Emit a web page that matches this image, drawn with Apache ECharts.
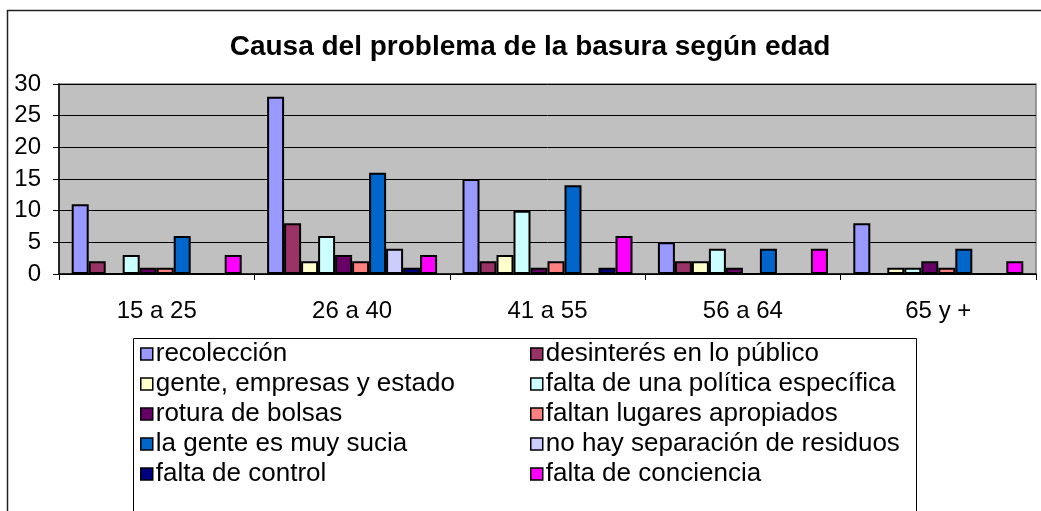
<!DOCTYPE html>
<html>
<head>
<meta charset="utf-8">
<script src="https://cdn.jsdelivr.net/npm/echarts@6/dist/echarts.min.js"></script>
<style>
  html, body { margin: 0; padding: 0; background: #fff; }
  #main { width: 1041px; height: 511px; }
</style>
</head>
<body>
<div id="main"></div>
<script>
// age groups
const categories = ['15 a 25', '26 a 40', '41 a 55', '56 a 64', '65 y +'];

// one array per cause (values per age group)
const recoleccion = [11, 28, 15, 5, 8];
const desinteres = [2, 8, 2, 2, 0];
const genteEmpresas = [0, 2, 3, 2, 1];
const faltaPolitica = [3, 6, 10, 4, 1];
const roturaBolsas = [1, 3, 1, 1, 2];
const faltanLugares = [1, 2, 2, 0, 1];
const genteSucia = [6, 16, 14, 4, 4];
const noSeparacion = [0, 4, 0, 0, 0];
const faltaControl = [0, 1, 1, 0, 0];
const faltaConciencia = [3, 3, 6, 4, 2];

const yTicks = [0, 5, 10, 15, 20, 25, 30];

const seriesDefs = [
  ['recolección', recoleccion, '#9999FF'],
  ['desinterés en lo público', desinteres, '#993366'],
  ['gente, empresas y estado', genteEmpresas, '#FFFFCC'],
  ['falta de una política específica', faltaPolitica, '#CCFFFF'],
  ['rotura de bolsas', roturaBolsas, '#660066'],
  ['faltan lugares apropiados', faltanLugares, '#FF8080'],
  ['la gente es muy sucia', genteSucia, '#0066CC'],
  ['no hay separación de residuos', noSeparacion, '#CCCCFF'],
  ['falta de control', faltaControl, '#000080'],
  ['falta de conciencia', faltaConciencia, '#FF00FF']
];

const font = 'Liberation Sans, Arial, sans-serif';
const chart = echarts.init(document.getElementById('main'));

const legendBase = {
  orient: 'vertical',
  top: 341,
  padding: 0,
  icon: 'rect',
  itemWidth: 12,
  itemHeight: 12,
  itemGap: 4,
  selectedMode: false,
  textStyle: { fontFamily: font, fontSize: 26, color: '#000', padding: [0, 0, 0, -2], lineHeight: 26 },
  itemStyle: { borderColor: '#000', borderWidth: 1.5 }
};

const option = {
  animation: false,
  backgroundColor: '#fff',
  title: {
    text: 'Causa del problema de la basura según edad',
    left: 530,
    textAlign: 'center',
    top: 33,
    padding: 0,
    textStyle: { fontFamily: font, fontSize: 28, fontWeight: 'bold', color: '#000' }
  },
  graphic: [
    { type: 'rect', shape: { x: 7.5, y: 10.5, width: 1100, height: 600 },
      style: { fill: 'none', stroke: '#222', lineWidth: 1.5 }, silent: true },
    { type: 'rect', shape: { x: 133.5, y: 338.5, width: 783, height: 300 },
      style: { fill: 'none', stroke: '#000', lineWidth: 1 }, silent: true, z: 0 }
  ],
  legend: [
    Object.assign({}, legendBase, { left: 140, data: seriesDefs.filter((d, i) => i % 2 === 0).map(d => d[0]) }),
    Object.assign({}, legendBase, { left: 530, data: seriesDefs.filter((d, i) => i % 2 === 1).map(d => d[0]) })
  ],
  grid: {
    left: 59, right: 5, top: 84, bottom: 237,
    show: true, backgroundColor: '#C0C0C0', borderColor: '#808080', borderWidth: 1.5
  },
  xAxis: {
    type: 'category',
    data: categories,
    axisLine: { lineStyle: { color: '#000', width: 1.5 } },
    axisTick: { show: true, length: 6, lineStyle: { color: '#000' } },
    axisLabel: { fontFamily: font, fontSize: 24, color: '#000', margin: 25 }
  },
  yAxis: {
    type: 'value',
    min: yTicks[0],
    max: yTicks[yTicks.length - 1],
    interval: yTicks[1] - yTicks[0],
    axisLine: { show: true, lineStyle: { color: '#000', width: 1.5 } },
    axisTick: { show: true, length: 6, lineStyle: { color: '#000' } },
    axisLabel: { fontFamily: font, fontSize: 24, color: '#000', margin: 18 },
    splitLine: { lineStyle: { color: '#000', width: 1 } }
  },
  series: seriesDefs.map(d => ({
    name: d[0],
    type: 'bar',
    data: d[1],
    barGap: '0%',
    barCategoryGap: '13%',
    itemStyle: { color: d[2], borderColor: '#000', borderWidth: 2 }
  }))
};

chart.setOption(option);
</script>
</body>
</html>
